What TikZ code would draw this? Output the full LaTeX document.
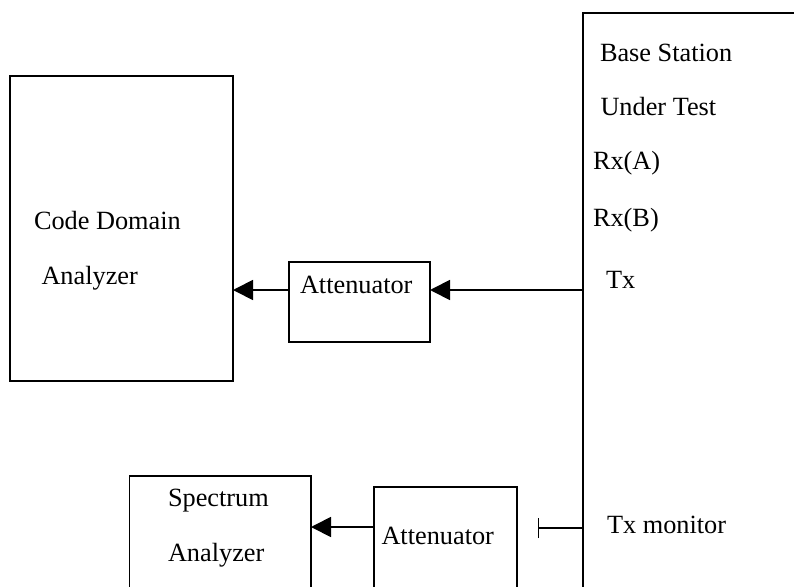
\documentclass[tikz,border=0pt]{standalone}
\usepackage{fontspec}
\setmainfont{Liberation Serif}
\usetikzlibrary{arrows.meta}
\begin{document}
\begin{tikzpicture}[x=1pt,y=-1pt,
  box/.style={draw,line width=1.8pt,inner sep=0pt,outer sep=0pt},
  lbl/.style={anchor=base west,inner sep=0pt,outer sep=0pt,font=\fontsize{26.3}{30}\selectfont},
  arr/.style={line width=1.8pt,-{Triangle[length=20pt,width=20pt]}}]
\useasboundingbox (0,0) rectangle (794,586);
\clip (0,0) rectangle (794,586);
% boxes
\node[box,anchor=north west,minimum width=260pt,minimum height=640pt] (bs) at (583,13) {};
\node[box,minimum width=223pt,minimum height=305pt] (cda) at (121.5,228.5) {};
\node[box,minimum width=141pt,minimum height=80pt] (att1) at (359.5,302) {};
\node[box,anchor=north west,minimum width=181.5pt,minimum height=160pt] (sa) at (129.5,476) {};
\node[box,anchor=north west,minimum width=143pt,minimum height=160pt] (att2) at (374,487) {};
% labels
\node[lbl] (t1) at (600,62) {Base Station};
\node[lbl] (t2) at (600.5,115.5) {Under Test};
\node[lbl] (t3) at (593,169) {Rx(A)};
\node[lbl] (t4) at (593,226) {Rx(B)};
\node[lbl] (t5) at (606,288) {Tx};
\node[lbl] (t6) at (607,533) {Tx monitor};
\node[lbl] (t7) at (34,229) {Code Domain};
\node[lbl] (t8) at (41.5,284) {Analyzer};
\node[lbl] (t9) at (300,293) {Attenuator};
\node[lbl] (t10) at (381.5,544) {Attenuator};
\node[lbl] (t11) at (168,506.5) {Spectrum};
\node[lbl] (t12) at (168,561.5) {Analyzer};
% connectors
\draw[arr] (bs.west |- 0,290) -- (att1.east |- 0,290);
\draw[arr] (att1.west |- 0,290) -- (cda.east |- 0,290);
\draw[arr] (att2.west |- 0,527) -- (sa.east |- 0,527);
\coordinate (mon) at (538,528);
\draw[line width=1.8pt] (mon) -- (bs.west |- mon);
\draw[line width=0.9pt] ([yshift=-10pt]mon) -- ([yshift=10pt]mon);
\end{tikzpicture}
\end{document}
